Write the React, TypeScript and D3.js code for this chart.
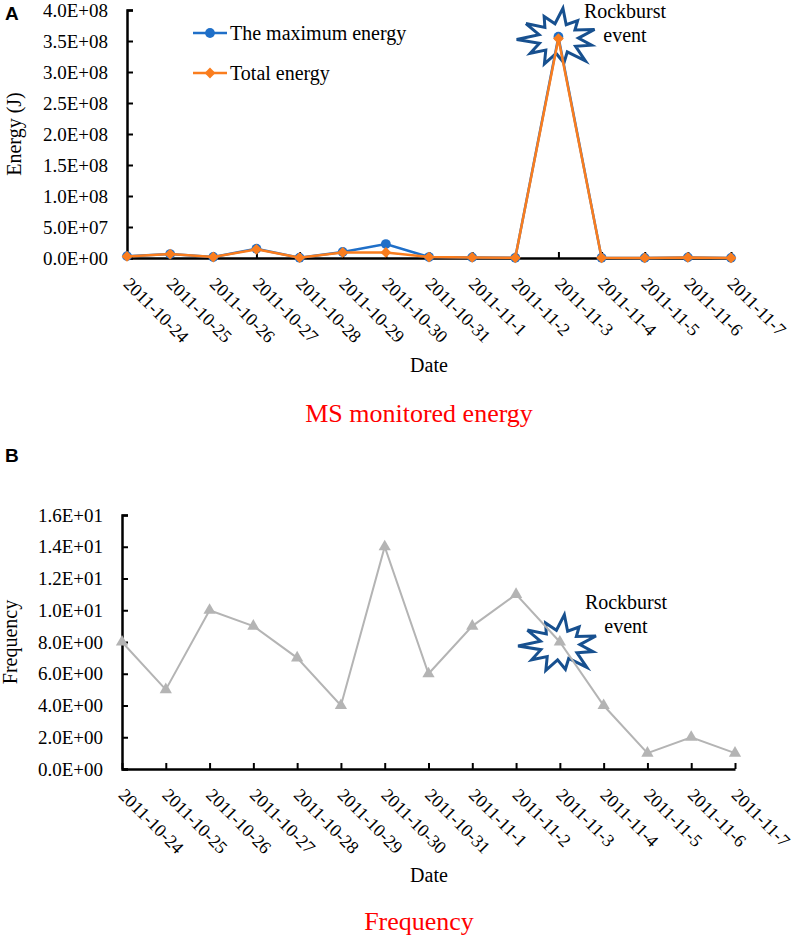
import React, { useRef, useEffect } from "react";
import * as d3 from "d3";

// dates shared by both panels
const dates: string[] = [
  "2011-10-24", "2011-10-25", "2011-10-26", "2011-10-27", "2011-10-28",
  "2011-10-29", "2011-10-30", "2011-10-31", "2011-11-1", "2011-11-2",
  "2011-11-3", "2011-11-4", "2011-11-5", "2011-11-6", "2011-11-7",
];

// panel A, energy in J
const maxEnergy: number[] = [
  3.0e6, 6.4e6, 1.6e6, 1.5e7, 0.5e6, 9.7e6, 2.25e7, 1.5e6,
  1.0e6, 0.3e6, 3.57e8, 0.3e6, 0.2e6, 1.0e6, 0.2e6,
];
const totalEnergy: number[] = [
  2.6e6, 6.4e6, 1.6e6, 1.4e7, 0.5e6, 9.0e6, 9.0e6, 1.5e6,
  1.0e6, 0.3e6, 3.54e8, 0.3e6, 0.2e6, 1.0e6, 0.2e6,
];
const energyTicks: number[] = [0, 5e7, 1e8, 1.5e8, 2e8, 2.5e8, 3e8, 3.5e8, 4e8];

// panel B, event counts
const frequency: number[] = [8, 5, 10, 9, 7, 4, 14, 6, 9, 11, 8, 4, 1, 2, 1];
const freqTicks: number[] = [0, 2, 4, 6, 8, 10, 12, 14, 16];

const eventIndex = 10; // 2011-11-3

const SERIF = '"Liberation Serif", "Times New Roman", "DejaVu Serif", serif';
const SANS = '"Liberation Sans", Arial, sans-serif';
const BLUE = "#1f6fc8";
const ORANGE = "#fa7d1e";
const GREY = "#b4b4b4";
const STAR = "#17508f";

const sci = (v: number): string => {
  if (v === 0) return "0.0E+00";
  const e = Math.floor(Math.log10(v));
  const m = v / Math.pow(10, e);
  return `${m.toFixed(1)}E+${String(e).padStart(2, "0")}`;
};

// irregular burst outline around a point
const burst = (cx: number, cy: number): string => {
  const outer = [1.0, 0.85, 1.05, 0.8, 1.0, 0.9, 1.05, 0.85, 0.95, 0.9, 1.1];
  const n = outer.length;
  const pts: [number, number][] = [];
  for (let i = 0; i < n; i++) {
    const a0 = (i / n) * Math.PI * 2 - 2.6;
    const a1 = ((i + 0.5) / n) * Math.PI * 2 - 2.6;
    pts.push([cx + Math.cos(a0) * 38 * outer[i], cy + Math.sin(a0) * 29 * outer[i]]);
    pts.push([cx + Math.cos(a1) * 20, cy + Math.sin(a1) * 15]);
  }
  return d3.line()(pts.concat([pts[0]])) || "";
};

const App: React.FC = () => {
  const ref = useRef<SVGSVGElement>(null);

  useEffect(() => {
    const svg = d3.select(ref.current);
    svg.selectAll("*").remove();

    const panel = (opts: {
      x0: number; x1: number; yBottom: number; yTop: number;
      domainMax: number; ticks: number[]; yTitle: string; yTitleX: number;
      dateY: number; title: string; titleY: number;
    }) => {
      const x = d3.scalePoint<string>().domain(dates).range([opts.x0, opts.x1]);
      const y = d3.scaleLinear().domain([0, opts.domainMax]).range([opts.yBottom, opts.yTop]);
      const g = svg.append("g");

      // axes
      const yAxis = d3.axisLeft(y).tickValues(opts.ticks).tickSize(-6).tickFormat((d) => sci(+d));
      const yg = g.append("g").attr("transform", `translate(${opts.x0},0)`).call(yAxis);
      yg.attr("font-family", null).attr("font-size", null);
      yg.select(".domain").attr("stroke", "#000").attr("stroke-width", 2.5);
      yg.selectAll(".tick line").attr("stroke", "#000").attr("stroke-width", 2);
      yg.selectAll(".tick text")
        .attr("x", -19)
        .style("font-family", SERIF)
        .style("font-size", "19px")
        .attr("fill", "#000");

      const xAxis = d3.axisBottom(x).tickSize(-6).tickSizeOuter(0);
      const xg = g.append("g").attr("transform", `translate(0,${opts.yBottom})`).call(xAxis);
      xg.attr("font-family", null).attr("font-size", null);
      xg.select(".domain").attr("stroke", "#000").attr("stroke-width", 2.5);
      xg.selectAll(".tick line").attr("stroke", "#000").attr("stroke-width", 2);
      xg.selectAll(".tick text")
        .style("font-family", SERIF)
        .style("font-size", "18px")
        .attr("fill", "#000")
        .attr("text-anchor", "start")
        .attr("dy", 0)
        .attr("y", 0)
        .attr("transform", "translate(-5,27) rotate(45)");

      g.append("text")
        .attr("transform", `translate(${opts.yTitleX},${(opts.yBottom + opts.yTop) / 2}) rotate(-90)`)
        .attr("text-anchor", "middle")
        .style("font-family", SERIF)
        .style("font-size", "20px")
        .text(opts.yTitle);

      g.append("text")
        .attr("x", 429)
        .attr("y", opts.dateY)
        .attr("text-anchor", "middle")
        .style("font-family", SERIF)
        .style("font-size", "20px")
        .text("Date");

      g.append("text")
        .attr("x", 419)
        .attr("y", opts.titleY)
        .attr("text-anchor", "middle")
        .style("font-family", SERIF)
        .style("font-size", "26px")
        .attr("fill", "#ff0000")
        .text(opts.title);

      return { g, x, y };
    };

    // ---------- panel A ----------
    const A = panel({
      x0: 127, x1: 731, yBottom: 258, yTop: 10, domainMax: 4e8,
      ticks: energyTicks, yTitle: "Energy (J)", yTitleX: 21,
      dateY: 372, title: "MS monitored energy", titleY: 422,
    });

    A.g.append("path")
      .attr("d", burst(A.x(dates[eventIndex]) || 0, A.y(totalEnergy[eventIndex])))
      .attr("fill", "#fff")
      .attr("stroke", STAR)
      .attr("stroke-width", 3)
      .attr("stroke-linejoin", "miter");

    const lineA = (vals: number[]) =>
      d3.line<number>()
        .x((_, i) => A.x(dates[i]) || 0)
        .y((d) => A.y(d))(vals) || "";

    A.g.append("path").attr("d", lineA(maxEnergy))
      .attr("fill", "none").attr("stroke", BLUE).attr("stroke-width", 2.5);
    A.g.selectAll(".dotMax").data(maxEnergy).enter().append("path")
      .attr("class", "dotMax")
      .attr("d", d3.symbol(d3.symbolCircle, 75)() || "")
      .attr("transform", (d, i) => `translate(${A.x(dates[i])},${A.y(d)})`)
      .attr("fill", BLUE);

    A.g.append("path").attr("d", lineA(totalEnergy))
      .attr("fill", "none").attr("stroke", ORANGE).attr("stroke-width", 2.5);
    A.g.selectAll(".dotTot").data(totalEnergy).enter().append("path")
      .attr("class", "dotTot")
      .attr("d", d3.symbol(d3.symbolSquare, 58)() || "")
      .attr("transform", (d, i) => `translate(${A.x(dates[i])},${A.y(d)}) rotate(45)`)
      .attr("fill", ORANGE);

    // legend
    const legend = [
      { name: "The maximum energy", color: BLUE, sym: d3.symbolCircle, rot: 0, size: 75, y: 33 },
      { name: "Total energy", color: ORANGE, sym: d3.symbolSquare, rot: 45, size: 58, y: 73 },
    ];
    legend.forEach((l) => {
      A.g.append("line").attr("x1", 193).attr("x2", 227).attr("y1", l.y).attr("y2", l.y)
        .attr("stroke", l.color).attr("stroke-width", 2.5);
      A.g.append("path").attr("d", d3.symbol(l.sym, l.size)() || "")
        .attr("transform", `translate(210,${l.y}) rotate(${l.rot})`)
        .attr("fill", l.color);
      A.g.append("text").attr("x", 230).attr("y", l.y + 7)
        .style("font-family", SERIF).style("font-size", "20px").text(l.name);
    });

    ["Rockburst", "event"].forEach((t, i) => {
      A.g.append("text").attr("x", 625).attr("y", 18 + i * 24)
        .attr("text-anchor", "middle")
        .style("font-family", SERIF).style("font-size", "20px").text(t);
    });

    svg.append("text").attr("x", 5).attr("y", 20)
      .style("font-family", SANS)
      .style("font-weight", "bold").style("font-size", "19px").text("A");

    // ---------- panel B ----------
    const B = panel({
      x0: 122, x1: 735, yBottom: 769, yTop: 515, domainMax: 16,
      ticks: freqTicks, yTitle: "Frequency", yTitleX: 17,
      dateY: 882, title: "Frequency", titleY: 930,
    });

    B.g.append("path")
      .attr("d", burst(B.x(dates[eventIndex]) || 0, B.y(frequency[eventIndex]) + 3))
      .attr("fill", "#fff")
      .attr("stroke", STAR)
      .attr("stroke-width", 3);

    B.g.append("path")
      .attr("d", d3.line<number>()
        .x((_, i) => B.x(dates[i]) || 0)
        .y((d) => B.y(d))(frequency) || "")
      .attr("fill", "none").attr("stroke", GREY).attr("stroke-width", 2);
    B.g.selectAll(".tri").data(frequency).enter().append("path")
      .attr("class", "tri")
      .attr("d", d3.symbol(d3.symbolTriangle, 65)() || "")
      .attr("transform", (d, i) => `translate(${B.x(dates[i])},${B.y(d)})`)
      .attr("fill", GREY);

    ["Rockburst", "event"].forEach((t, i) => {
      B.g.append("text").attr("x", 626).attr("y", 609 + i * 24)
        .attr("text-anchor", "middle")
        .style("font-family", SERIF).style("font-size", "20px").text(t);
    });

    svg.append("text").attr("x", 5).attr("y", 462)
      .style("font-family", SANS)
      .style("font-weight", "bold").style("font-size", "19px").text("B");
  }, []);

  return (
    <svg
      ref={ref}
      width={796}
      height={940}
      style={{ position: "absolute", left: 0, top: 0, background: "#fff" }}
    ></svg>
  );
};

export default App;
